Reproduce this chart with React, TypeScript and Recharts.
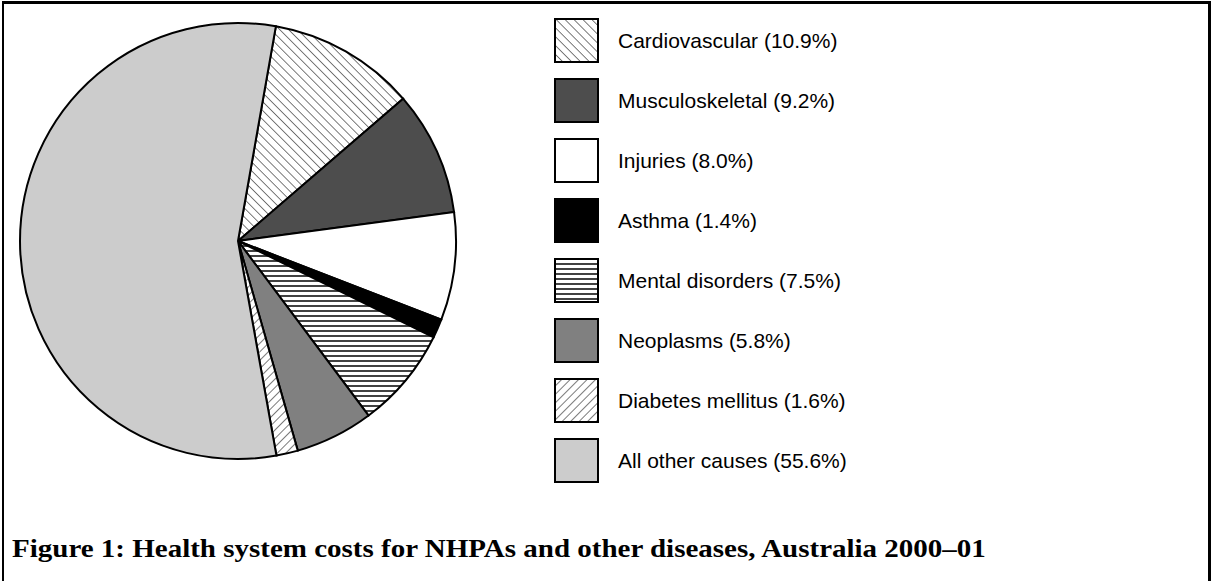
import React from 'react';
import { PieChart, Pie, Cell } from 'recharts';

const categories = [
  'Cardiovascular',
  'Musculoskeletal',
  'Injuries',
  'Asthma',
  'Mental disorders',
  'Neoplasms',
  'Diabetes mellitus',
  'All other causes',
];
const shares = [10.9, 9.2, 8.0, 1.4, 7.5, 5.8, 1.6, 55.6];
const fills = [
  'url(#hatchBack)',
  '#4d4d4d',
  '#ffffff',
  '#000000',
  'url(#hatchHoriz)',
  '#808080',
  'url(#hatchFwd)',
  '#cccccc',
];
const caption = 'Figure 1: Health system costs for NHPAs and other diseases, Australia 2000\u201301';

const data = categories.map((name, i) => ({ name, value: shares[i], fill: fills[i] }));

const Patterns = () => (
  <defs>
    <pattern id="hatchBack" width="6.3" height="6.3" patternUnits="userSpaceOnUse" patternTransform="rotate(-45)">
      <rect width="6.3" height="6.3" fill="#fff" />
      <line x1="0" y1="0" x2="0" y2="6.3" stroke="#333" strokeWidth="1.3" />
    </pattern>
    <pattern id="hatchFwd" width="6" height="6" patternUnits="userSpaceOnUse" patternTransform="rotate(45)">
      <rect width="6" height="6" fill="#fff" />
      <line x1="0" y1="0" x2="0" y2="6" stroke="#333" strokeWidth="1.3" />
    </pattern>
    <pattern id="hatchHoriz" width="5" height="5" patternUnits="userSpaceOnUse">
      <rect width="5" height="5" fill="#fff" />
      <line x1="0" y1="1" x2="5" y2="1" stroke="#111" strokeWidth="1.6" />
    </pattern>
  </defs>
);

const LegendBox = () => (
  <div style={{ fontFamily: 'Liberation Sans, Arial, sans-serif', fontSize: 21, color: '#000' }}>
    {data.map((d) => (
      <div key={d.name} style={{ display: 'flex', alignItems: 'center', height: 60 }}>
        <svg width={46} height={46} style={{ display: 'block' }}>
          <rect x={1} y={1} width={43} height={43} fill={d.fill} stroke="#000" strokeWidth={2} />
        </svg>
        <span style={{ marginLeft: 18 }}>{`${d.name} (${d.value.toFixed(1)}%)`}</span>
      </div>
    ))}
  </div>
);

export default function App() {
  return (
    <div style={{ position: 'absolute', left: 0, top: 0, width: 1211, height: 581, background: '#fff', overflow: 'hidden' }}>
      <div
        style={{
          position: 'absolute',
          left: 2,
          top: 1,
          width: 1204,
          height: 600,
          borderTop: '3px solid #000',
          borderLeft: '2px solid #000',
          borderRight: '3px solid #000',
        }}
      />
      <div style={{ position: 'absolute', left: 0, top: 0 }}>
        <PieChart width={480} height={480}>
          <Patterns />
          <Pie
            data={data}
            dataKey="value"
            nameKey="name"
            cx={233}
            cy={236}
            outerRadius={218}
            startAngle={80}
            endAngle={-280}
            stroke="#000"
            strokeWidth={2}
            isAnimationActive={false}
          >
            {data.map((d) => (
              <Cell key={d.name} fill={d.fill} />
            ))}
          </Pie>
        </PieChart>
      </div>
      <div style={{ position: 'absolute', left: 554, top: 11 }}>
        <LegendBox />
      </div>
      <div
        style={{
          position: 'absolute',
          left: 12,
          top: 534,
          fontFamily: 'Liberation Serif, Times New Roman, serif',
          fontWeight: 'bold',
          fontSize: 26,
          whiteSpace: 'nowrap',
          transform: 'scaleX(1.115)',
          transformOrigin: 'left top',
        }}
      >
        {caption}
      </div>
    </div>
  );
}
